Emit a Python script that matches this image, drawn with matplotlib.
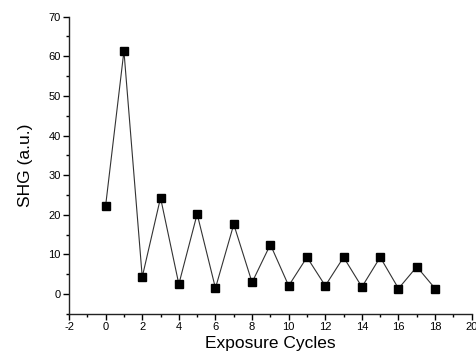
import matplotlib
matplotlib.use('Agg')
import matplotlib.pyplot as plt
from matplotlib.ticker import MultipleLocator

plt.rcParams['font.family'] = ['Liberation Sans', 'DejaVu Sans']
plt.rcParams['axes.unicode_minus'] = False

# Exposure cycle index and SHG signal
cycles = [0, 1, 2, 3, 4, 5, 6, 7, 8, 9, 10, 11, 12, 13, 14, 15, 16, 17, 18]
shg = [22.3, 61.3, 4.3, 24.3, 2.5, 20.2, 1.5, 17.6, 2.95, 12.5,
       2.1, 9.3, 2.1, 9.3, 1.8, 9.3, 1.4, 6.9, 1.4]

fig = plt.figure(figsize=(4.76, 3.6), dpi=100)
ax = fig.add_axes([0.145, 0.128, 0.846, 0.826])

ax.plot(cycles, shg, color='#333333', linewidth=0.8,
        marker='s', markersize=5.2, markerfacecolor='black',
        markeredgecolor='black')

ax.set_xlim(-2, 20)
ax.set_ylim(-5, 70)

# Origin-style axes: left and bottom only, ticks pointing out
ax.spines['top'].set_visible(False)
ax.spines['right'].set_visible(False)
for s in ['left', 'bottom']:
    ax.spines[s].set_linewidth(1.0)
    ax.spines[s].set_color('#222222')

ax.xaxis.set_major_locator(MultipleLocator(2))
ax.xaxis.set_minor_locator(MultipleLocator(1))
ax.yaxis.set_major_locator(MultipleLocator(10))
ax.yaxis.set_minor_locator(MultipleLocator(5))
ax.tick_params(which='major', direction='out', length=4, width=1.0, labelsize=8, pad=2)
ax.tick_params(which='minor', direction='out', length=2.5, width=1.0)

ax.set_xlabel('Exposure Cycles', fontsize=12.5, labelpad=3)
ax.set_ylabel('SHG (a.u.)', fontsize=12.5, labelpad=11)

fig.savefig('out.png', dpi=100)
